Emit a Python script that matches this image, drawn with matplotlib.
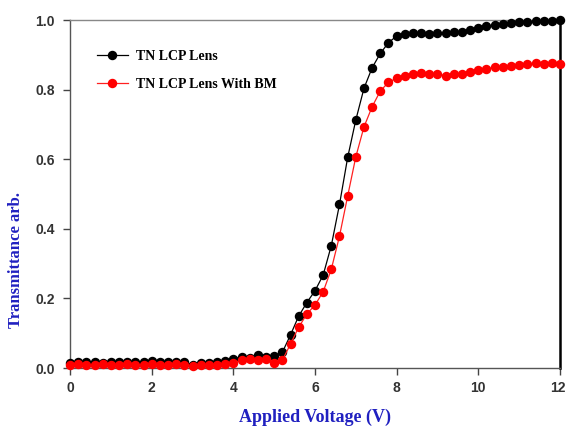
import matplotlib
matplotlib.use("Agg")
import matplotlib.pyplot as plt
import matplotlib.transforms as mtransforms
import numpy as np

voltage = [round(0.2 * i, 1) for i in range(61)]

tn_lens = [0.015, 0.018, 0.016, 0.017, 0.015, 0.018, 0.016, 0.017, 0.018, 0.017,
           0.019, 0.018, 0.017, 0.018, 0.016, 0.010, 0.014, 0.015, 0.016, 0.020,
           0.025, 0.033, 0.030, 0.036, 0.032, 0.034, 0.045, 0.095, 0.149, 0.188,
           0.222, 0.267, 0.352, 0.470, 0.605, 0.713, 0.804, 0.863, 0.904, 0.935,
           0.954, 0.960, 0.962, 0.964, 0.960, 0.963, 0.962, 0.965, 0.966, 0.972,
           0.978, 0.983, 0.985, 0.988, 0.991, 0.993, 0.995, 0.996, 0.997, 0.998,
           1.000]

tn_lens_bm = [0.010, 0.011, 0.009, 0.010, 0.011, 0.009, 0.010, 0.011, 0.010, 0.009,
              0.011, 0.010, 0.009, 0.011, 0.010, 0.005, 0.008, 0.009, 0.010, 0.012,
              0.015, 0.022, 0.025, 0.024, 0.025, 0.015, 0.022, 0.069, 0.117, 0.155,
              0.181, 0.219, 0.284, 0.379, 0.494, 0.607, 0.693, 0.751, 0.796, 0.821,
              0.833, 0.840, 0.846, 0.848, 0.846, 0.845, 0.840, 0.844, 0.846, 0.852,
              0.856, 0.860, 0.864, 0.866, 0.869, 0.872, 0.874, 0.876, 0.875, 0.876,
              0.875]

x_ticks = [0, 2, 4, 6, 8, 10, 12]
y_ticks = [0.0, 0.2, 0.4, 0.6, 0.8, 1.0]

fig = plt.figure(figsize=(5.66, 4.29), dpi=100)
ax = fig.add_axes([70 / 566, 1 - 368 / 429, 490 / 566, 348 / 429])

ax.plot(voltage, tn_lens, color="black", lw=0.9, marker="o", ms=6.8,
        markeredgewidth=0, label="TN LCP Lens", clip_on=False, zorder=3)
ax.plot(voltage, tn_lens_bm, color="#ff2020", lw=0.9, marker="o", ms=6.8,
        markeredgewidth=0, markerfacecolor="red", label="TN LCP Lens With BM",
        clip_on=False, zorder=4)

ax.set_xlim(0, 12)
ax.set_ylim(0, 1.0)
ax.set_xticks(x_ticks)
ax.set_yticks(y_ticks)
ax.set_xticklabels([str(t) for t in x_ticks])
ax.set_yticklabels([f"{t:.1f}" for t in y_ticks])

ax.tick_params(axis="both", direction="out", length=5, width=1, color="#444444")
ax.tick_params(axis="x", pad=4)
ax.tick_params(axis="y", pad=6)

for lab in ax.get_xticklabels() + ax.get_yticklabels():
    lab.set_fontfamily("Liberation Sans")
    lab.set_fontweight("bold")
    lab.set_fontsize(10)
    lab.set_color("#333333")

# nudge the last x tick label so it stays inside the figure
last = ax.get_xticklabels()[-1]
last.set_transform(last.get_transform() +
                   mtransforms.ScaledTranslation(-2.5 / 100, 0, fig.dpi_scale_trans))

ax.spines["top"].set_color("#888888")
ax.spines["top"].set_linewidth(1.0)
ax.spines["left"].set_color("#555555")
ax.spines["left"].set_linewidth(1.0)
ax.spines["bottom"].set_color("#555555")
ax.spines["bottom"].set_linewidth(1.0)
ax.spines["right"].set_color("black")
ax.spines["right"].set_linewidth(1.8)

ax.set_xlabel("Applied Voltage (V)", fontfamily="Liberation Serif", fontweight="bold",
              fontsize=13, color="#2020c0")
ax.set_ylabel("Transmittance arb.", fontfamily="Liberation Serif", fontweight="bold",
              fontsize=12, color="#2020c0")
ax.xaxis.set_label_coords(0.5, -0.118)
ax.yaxis.set_label_coords(-0.094, 0.31)

leg = ax.legend(loc="upper left", bbox_to_anchor=(0.055, 0.915), frameon=False,
                borderpad=0, borderaxespad=0, handlelength=2.2, handletextpad=0.6,
                labelspacing=1.1, prop={"family": "Liberation Serif", "weight": "bold", "size": 10})

fig.savefig("out.png", dpi=100)
